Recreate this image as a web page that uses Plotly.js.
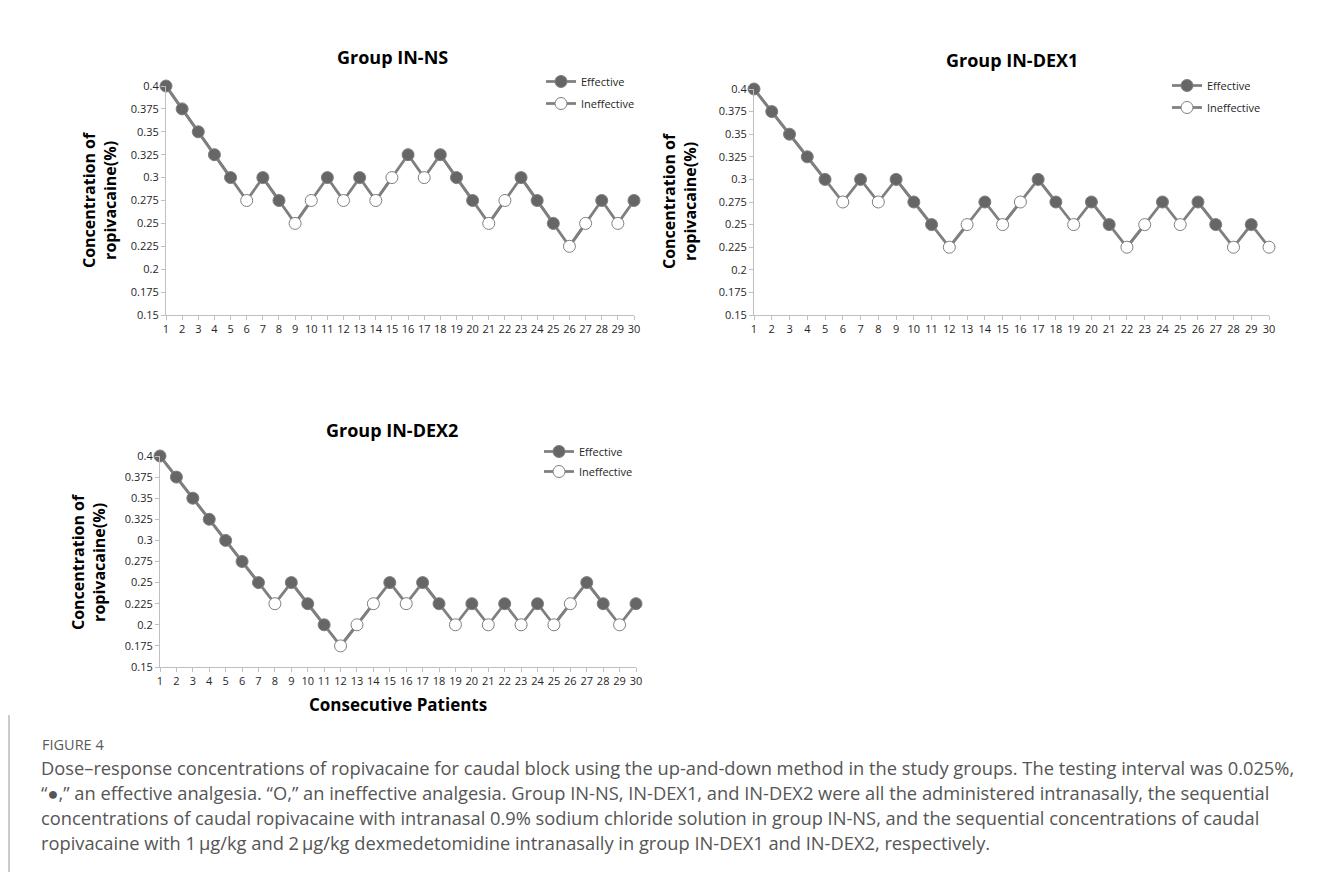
<!DOCTYPE html>
<html>
<head>
<meta charset="utf-8">
<script src="https://cdn.plot.ly/plotly-3.0.1.min.js"></script>
<style>
html,body{margin:0;padding:0;background:#fff;}
#chart{width:1331px;height:872px;}
</style>
</head>
<body>
<div id="chart"></div>
<script>
// ---- data ----
const patients = [1,2,3,4,5,6,7,8,9,10,11,12,13,14,15,16,17,18,19,20,21,22,23,24,25,26,27,28,29,30];

const nsConc = [0.4,0.375,0.35,0.325,0.3,0.275,0.3,0.275,0.25,0.275,0.3,0.275,0.3,0.275,0.3,0.325,0.3,0.325,0.3,0.275,0.25,0.275,0.3,0.275,0.25,0.225,0.25,0.275,0.25,0.275];
const nsResp = ['E','E','E','E','E','I','E','E','I','I','E','I','E','I','I','E','I','E','E','E','I','I','E','E','E','I','I','E','I','E'];

const dex1Conc = [0.4,0.375,0.35,0.325,0.3,0.275,0.3,0.275,0.3,0.275,0.25,0.225,0.25,0.275,0.25,0.275,0.3,0.275,0.25,0.275,0.25,0.225,0.25,0.275,0.25,0.275,0.25,0.225,0.25,0.225];
const dex1Resp = ['E','E','E','E','E','I','E','I','E','E','E','I','I','E','I','I','E','E','I','E','E','I','I','E','I','E','E','I','E','I'];

const dex2Conc = [0.4,0.375,0.35,0.325,0.3,0.275,0.25,0.225,0.25,0.225,0.2,0.175,0.2,0.225,0.25,0.225,0.25,0.225,0.2,0.225,0.2,0.225,0.2,0.225,0.2,0.225,0.25,0.225,0.2,0.225];
const dex2Resp = ['E','E','E','E','E','E','E','I','E','E','E','I','I','I','E','I','E','E','I','E','I','E','I','E','I','I','E','E','I','E'];

const yTickVals = [0.15,0.175,0.2,0.225,0.25,0.275,0.3,0.325,0.35,0.375,0.4];
const yTickText = ['0.15','0.175','0.2','0.225','0.25','0.275','0.3','0.325','0.35','0.375','0.4'];

const groupTitles = ['Group IN-NS','Group IN-DEX1','Group IN-DEX2'];
const legendNames = ['Effective','Ineffective'];
const yTitle = 'Concentration of<br>ropivacaine(%)';
const xTitle = 'Consecutive Patients';
const figLabel = 'FIGURE 4';
const captionLines = [
  'Dose\u2013response concentrations of ropivacaine for caudal block using the up-and-down method in the study groups. The testing interval was 0.025%,',
  '\u201c\u25cf,\u201d an effective analgesia. \u201cO,\u201d an ineffective analgesia. Group IN-NS, IN-DEX1, and IN-DEX2 were all the administered intranasally, the sequential',
  'concentrations of caudal ropivacaine with intranasal 0.9% sodium chloride solution in group IN-NS, and the sequential concentrations of caudal',
  'ropivacaine with 1\u2009\u03bcg/kg and 2\u2009\u03bcg/kg dexmedetomidine intranasally in group IN-DEX1 and IN-DEX2, respectively.'
];

// ---- styling ----
const W = 1331, H = 872;
const LINE = '#7f7f7f', FILL_E = '#666666', FILL_I = '#ffffff';
const TXT = '#262626';
const FONT = 'Open Sans, Noto Sans, sans-serif';

function px(x){ return x / W; }
function py(y){ return 1 - y / H; }

const panels = [
  {conc: nsConc,   resp: nsResp,   xa: 'x',  ya: 'y',  lg: 'legend',  xd: [166, 634], yd: [86, 315],
   title: [392, 57], ytitle: [100, 200], legendPos: [541, 67], gap: 3},
  {conc: dex1Conc, resp: dex1Resp, xa: 'x2', ya: 'y2', lg: 'legend2', xd: [754, 1269], yd: [89, 315],
   title: [1012, 60], ytitle: [679, 201], legendPos: [1167, 71], gap: 3},
  {conc: dex2Conc, resp: dex2Resp, xa: 'x3', ya: 'y3', lg: 'legend3', xd: [160, 636], yd: [456, 667],
   title: [392, 430], ytitle: [88, 562], legendPos: [539, 437], gap: 1}
];

const traces = [];
const layout = {
  width: W, height: H,
  margin: {l: 0, r: 0, t: 0, b: 0},
  paper_bgcolor: '#fff', plot_bgcolor: '#fff',
  font: {family: FONT, color: TXT},
  showlegend: true,
  annotations: [], shapes: []
};

panels.forEach((p, i) => {
  const effY = p.conc.map((v, k) => p.resp[k] === 'E' ? v : null);
  const ineY = p.conc.map((v, k) => p.resp[k] === 'I' ? v : null);
  traces.push({
    x: patients, y: p.conc, xaxis: p.xa, yaxis: p.ya, mode: 'lines',
    line: {color: LINE, width: 2.75}, showlegend: false, cliponaxis: false, hoverinfo: 'skip'
  });
  traces.push({
    x: patients, y: effY, xaxis: p.xa, yaxis: p.ya, mode: 'lines+markers', name: legendNames[0],
    legend: p.lg, legendgroup: 'e' + i, connectgaps: false, cliponaxis: false,
    line: {color: LINE, width: 2.75},
    marker: {size: 12, color: FILL_E, line: {color: LINE, width: 1}}
  });
  traces.push({
    x: patients, y: ineY, xaxis: p.xa, yaxis: p.ya, mode: 'lines+markers', name: legendNames[1],
    legend: p.lg, legendgroup: 'i' + i, connectgaps: false, cliponaxis: false,
    line: {color: LINE, width: 2.75},
    marker: {size: 12, color: FILL_I, line: {color: LINE, width: 1}}
  });

  const sfx = i === 0 ? '' : String(i + 1);
  layout['xaxis' + sfx] = {
    domain: [px(p.xd[0]), px(p.xd[1])], anchor: p.ya,
    range: [1, 30], tickvals: patients, ticktext: patients.map(String),
    showgrid: false, zeroline: false, showline: true, linecolor: '#bfbfbf', linewidth: 1,
    ticks: 'outside', ticklen: 4, tickcolor: '#bfbfbf', tickangle: 0,
    tickfont: {size: 11, color: TXT, family: FONT}, fixedrange: true
  };
  layout['yaxis' + sfx] = {
    domain: [py(p.yd[1]), py(p.yd[0])], anchor: p.xa,
    range: [0.15, 0.4], tickvals: yTickVals, ticktext: yTickText,
    showgrid: false, zeroline: false, showline: true, linecolor: '#bfbfbf', linewidth: 1,
    ticks: 'outside', ticklen: 4, tickcolor: '#bfbfbf',
    tickfont: {size: 11, color: TXT, family: FONT}, fixedrange: true
  };
  layout[p.lg] = {
    x: px(p.legendPos[0]), y: py(p.legendPos[1]), xanchor: 'left', yanchor: 'top',
    bgcolor: 'rgba(0,0,0,0)', font: {size: 11, color: TXT, family: FONT},
    itemwidth: 30, tracegroupgap: p.gap, traceorder: 'grouped'
  };
  layout.annotations.push({
    xref: 'paper', yref: 'paper', x: px(p.title[0]), y: py(p.title[1]),
    xanchor: 'center', yanchor: 'middle', showarrow: false,
    text: '<b>' + groupTitles[i] + '</b>', font: {size: 18, color: '#000', family: FONT}
  });
  layout.annotations.push({
    xref: 'paper', yref: 'paper', x: px(p.ytitle[0]), y: py(p.ytitle[1]),
    xanchor: 'center', yanchor: 'middle', showarrow: false, textangle: -90,
    text: '<b>' + yTitle + '</b>', font: {size: 16, color: '#000', family: FONT}
  });
});

layout.annotations.push({
  xref: 'paper', yref: 'paper', x: px(398), y: py(704), xanchor: 'center', yanchor: 'middle',
  showarrow: false, text: '<b>' + xTitle + '</b>', font: {size: 17, color: '#000', family: FONT}
});

layout.annotations.push({
  xref: 'paper', yref: 'paper', x: px(40), y: py(744), xanchor: 'left', yanchor: 'middle',
  showarrow: false, text: figLabel, font: {size: 14.5, color: '#5a5a5a', family: FONT}
});
captionLines.forEach((t, k) => {
  layout.annotations.push({
    xref: 'paper', yref: 'paper', x: px(39), y: py(767 + k * 25), xanchor: 'left', yanchor: 'middle',
    showarrow: false, text: t, font: {size: 18.3, color: '#555555', family: FONT}
  });
});

layout.shapes.push({
  type: 'line', xref: 'paper', yref: 'paper', x0: px(9), x1: px(9), y0: py(715), y1: py(872),
  line: {color: '#9a9a9a', width: 1}
});

Plotly.newPlot('chart', traces, layout, {displayModeBar: false, staticPlot: true});
</script>
</body>
</html>
